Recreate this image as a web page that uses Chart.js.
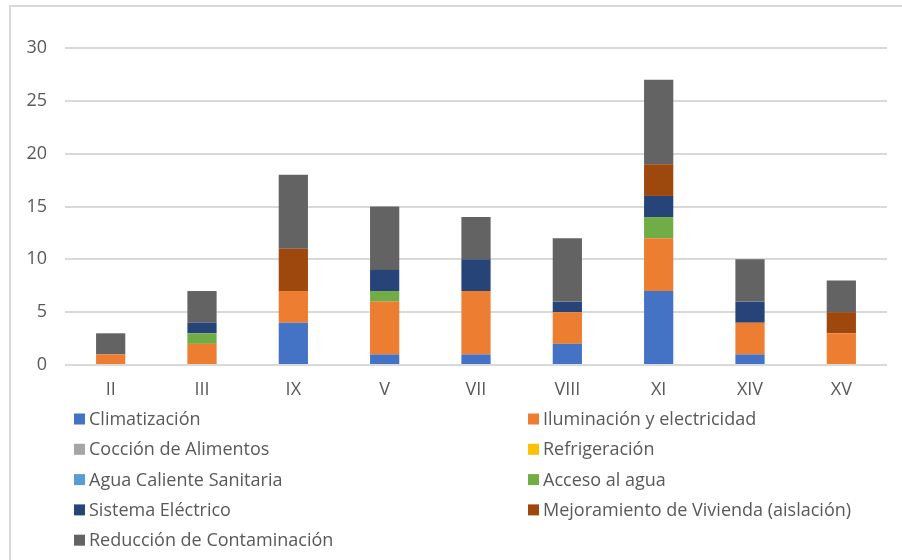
<!DOCTYPE html>
<html><head><meta charset="utf-8">
<script src="https://cdn.jsdelivr.net/npm/chart.js@4.4.1/dist/chart.umd.min.js"></script>
<style>html,body{margin:0;padding:0;background:#fff;overflow:hidden}#wrap{width:902px;height:560px;position:relative}</style>
</head><body><div id="wrap"><canvas id="c" width="902" height="560"></canvas></div>
<script>
const categories = ['II','III','IX','V','VII','VIII','XI','XIV','XV'];
const climatizacion    = [0,0,4,1,1,2,7,1,0];
const iluminacion      = [1,2,3,5,6,3,5,3,3];
const coccion          = [0,0,0,0,0,0,0,0,0];
const refrigeracion    = [0,0,0,0,0,0,0,0,0];
const aguaCaliente     = [0,0,0,0,0,0,0,0,0];
const accesoAgua       = [0,1,0,1,0,0,2,0,0];
const sistemaElectrico = [0,1,0,2,3,1,2,2,0];
const mejoramiento     = [0,0,4,0,0,0,3,0,2];
const reduccion        = [2,3,7,6,4,6,8,4,3];
const yTicks = [0,5,10,15,20,25,30];

const seriesNames = ['Climatización','Iluminación y electricidad','Cocción de Alimentos','Refrigeración','Agua Caliente Sanitaria','Acceso al agua','Sistema Eléctrico','Mejoramiento de Vivienda (aislación)','Reducción de Contaminación'];
const seriesData = [climatizacion,iluminacion,coccion,refrigeracion,aguaCaliente,accesoAgua,sistemaElectrico,mejoramiento,reduccion];
const seriesColors = ['#4472C4','#ED7D31','#A5A5A5','#FFC000','#5B9BD5','#70AD47','#264478','#9E480E','#636363'];

const FONT = '"Open Sans", "DejaVu Sans", sans-serif';

const frameAndLegend = {
  id: 'frameAndLegend',
  beforeDraw(chart) {
    const ctx = chart.ctx;
    ctx.save();
    ctx.strokeStyle = '#d9d9d9';
    ctx.lineWidth = 2;
    ctx.beginPath();
    ctx.moveTo(10, 562);
    ctx.lineTo(10, 6);
    ctx.lineTo(904, 6);
    ctx.stroke();
    ctx.restore();
  },
  afterDraw(chart) {
    const ctx = chart.ctx;
    ctx.save();
    ctx.font = '18px ' + FONT;
    ctx.textBaseline = 'middle';
    chart.data.datasets.forEach((ds, i) => {
      const col = i % 2, row = Math.floor(i / 2);
      const mx = col ? 528 : 74;
      const cy = 419 + row * 30.3;
      ctx.fillStyle = ds.backgroundColor;
      ctx.fillRect(mx, cy - 5.5, 11, 11);
      ctx.fillStyle = '#595959';
      ctx.fillText(ds.label, mx + 15, cy + 1);
    });
    ctx.restore();
  }
};

new Chart(document.getElementById('c'), {
  type: 'bar',
  data: {
    labels: categories,
    datasets: seriesNames.map((n, i) => ({
      label: n,
      data: seriesData[i],
      backgroundColor: seriesColors[i],
      borderWidth: 0,
      categoryPercentage: 1,
      barPercentage: 0.32
    }))
  },
  options: {
    responsive: false,
    animation: false,
    layout: { padding: { left: 0, right: 15, top: 48, bottom: 0 } },
    plugins: { legend: { display: false }, tooltip: { enabled: false } },
    scales: {
      x: {
        stacked: true,
        grid: { display: false, drawTicks: false },
        border: { display: false },
        ticks: { color: '#595959', font: { family: FONT, size: 18 }, padding: 14 },
        afterFit(s) { s.height = 195; }
      },
      y: {
        stacked: true,
        min: 0, max: 30,
        afterBuildTicks(s) { s.ticks = yTicks.map(v => ({ value: v })); },
        grid: { color: '#d9d9d9', lineWidth: 2, drawTicks: false },
        border: { display: false },
        ticks: { color: '#595959', font: { family: FONT, size: 18 }, padding: 18 },
        afterFit(s) { s.width = 65; }
      }
    }
  },
  plugins: [frameAndLegend]
});
</script>
</body></html>
